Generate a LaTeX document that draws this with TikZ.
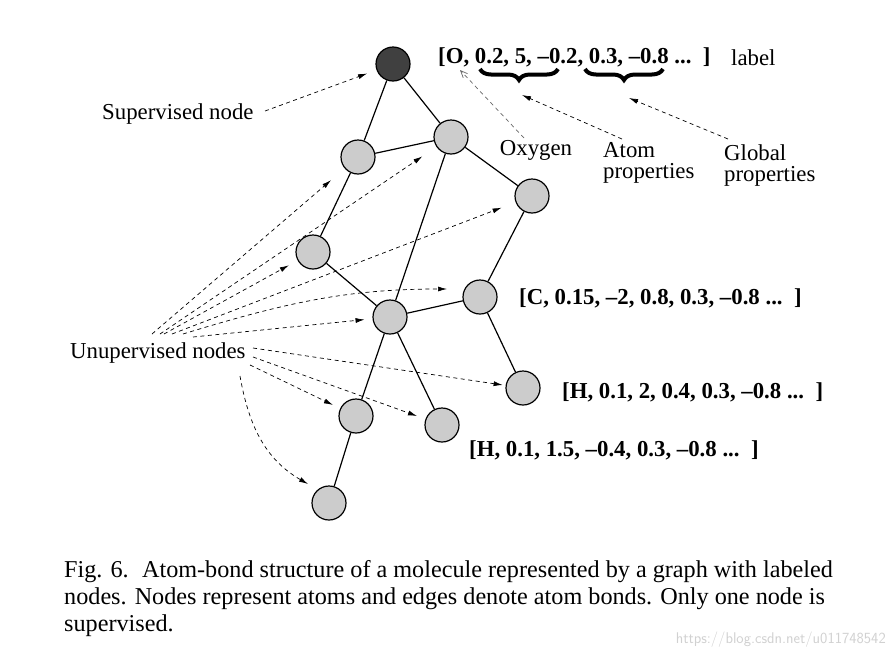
\documentclass[tikz,border=0pt]{standalone}
\usepackage{fontspec}
\setmainfont{Liberation Serif}
\usetikzlibrary{arrows.meta,decorations.pathreplacing,calc}
\begin{document}
\begin{tikzpicture}[x=1pt,y=-1pt,
  atom/.style={circle,draw=black,line width=1.2pt,fill=black!20,minimum size=34pt,inner sep=0pt},
  supatom/.style={atom,fill=black!75},
  bond/.style={line width=1.2pt},
  pointer/.style={dashed,dash pattern=on 4pt off 3.5pt,line width=0.7pt,-{Latex[length=9pt,width=5pt]}},
  openpointer/.style={dashed,dash pattern=on 4pt off 3.5pt,line width=0.7pt,draw=black!60,-{Straight Barb[length=7pt,width=6pt]}},
  lab/.style={font=\fontsize{22.8}{25}\selectfont,inner sep=0pt},
  vec/.style={font=\fontsize{22.8}{25}\selectfont\bfseries,inner sep=0pt,anchor=west},
  captext/.style={font=\fontsize{24.2}{28}\selectfont,inner sep=0pt,anchor=west},
  bracestyle/.style={decorate,decoration={brace,mirror,amplitude=11pt},line width=4pt}
]
\useasboundingbox (0,0) rectangle (894,659);

% atoms
\node[supatom] (O) at (393,64) {};
\node[atom] (n1) at (358,157) {};
\node[atom] (n2) at (451,137) {};
\node[atom] (n3) at (532,196) {};
\node[atom] (n4) at (313,252) {};
\node[atom] (n5) at (480,297) {};
\node[atom] (n6) at (390,317) {};
\node[atom] (n7) at (523,388) {};
\node[atom] (n8) at (356,416) {};
\node[atom] (n9) at (442,425) {};
\node[atom] (n10) at (329,503) {};

% bonds
\draw[bond] (O) -- (n1);
\draw[bond] (O) -- (n2);
\draw[bond] (n1) -- (n2);
\draw[bond] (n1) -- (n4);
\draw[bond] (n2) -- (n3);
\draw[bond] (n2) -- (n6);
\draw[bond] (n3) -- (n5);
\draw[bond] (n4) -- (n6);
\draw[bond] (n6) -- (n5);
\draw[bond] (n6) -- (n8);
\draw[bond] (n6) -- (n9);
\draw[bond] (n5) -- (n7);
\draw[bond] (n8) -- (n10);

% labels
\node[lab,anchor=west] (sup) at (102,114) {Supervised node};
\node[lab,anchor=west] (unsup) at (70,353) {Unupervised nodes};
\node[vec] (vO) at (438,57) {[O, 0.2, 5, –0.2, 0.3, –0.8 ...\ \ ]};
\node[lab,anchor=west] (lbl) at (731,58) {label};
\node[lab] (oxy) at (536,150) {Oxygen};
\node[lab,anchor=base west] (atomp1) at (603,157) {Atom};
\node[lab,anchor=base west] (atomp2) at (603,178.5) {properties};
\node[lab,anchor=base west] (globp1) at (724,160) {Global};
\node[lab,anchor=base west] (globp2) at (724,181) {properties};
\node[vec] (vC) at (519,298) {[C, 0.15, –2, 0.8, 0.3, –0.8 ...\ \ ]};
\node[vec] (vH1) at (562,392) {[H, 0.1, 2, 0.4, 0.3, –0.8 ...\ \ ]};
\node[vec] (vH2) at (469,450) {[H, 0.1, 1.5, –0.4, 0.3, –0.8 ...\ \ ]};

% braces
\coordinate (b1a) at (480,69);
\coordinate (b1b) at (558,69);
\coordinate (b2a) at (585,69);
\coordinate (b2b) at (663,69);
\draw[bracestyle] (b1a) -- (b1b);
\draw[bracestyle] (b2a) -- (b2b);
\coordinate (b1tip) at (522,95);
\coordinate (b2tip) at (629,98);

% pointer start points
\coordinate (sS) at (265,111);
\coordinate (oxS) at (524,138);
\coordinate (apS) at (622,139);
\coordinate (gpS) at (728,139);
\coordinate (oxT) at (460,70);
\coordinate (u1) at (152,334);
\coordinate (u2) at (160,334);
\coordinate (u3) at (164,334);
\coordinate (u4) at (172,334);
\coordinate (u5) at (183,334);
\coordinate (u6) at (193,337);
\coordinate (u7) at (253,348);
\coordinate (u8) at (253,357);
\coordinate (u9) at (250,365);
\coordinate (u10) at (240,376);

% pointers
\draw[pointer,shorten >=10pt] (sS) -- (O);
\draw[openpointer] (oxS) -- (oxT);
\draw[pointer] (apS) -- (b1tip);
\draw[pointer] (gpS) -- (b2tip);

\draw[pointer,shorten >=18pt] (u1) -- (n1);
\draw[pointer,shorten >=17pt] (u2) -- (n2);
\draw[pointer,shorten >=10pt] (u3) -- (n4);
\draw[pointer,shorten >=15pt] (u4) -- (n3);
\draw[pointer,shorten >=8pt] (u5) to[out=17,in=180] ($(n5)+(-25,-8)$);
\draw[pointer,shorten >=8pt] (u6) -- (n6);
\draw[pointer,shorten >=3pt] (u7) -- (n7);
\draw[pointer,shorten >=9pt] (u8) -- (n9);
\draw[pointer,shorten >=8pt] (u9) -- (n8);
\draw[pointer] (u10) to[out=-80,in=150] ($(n10)+(-21,-19)$);

% caption
\node[captext] (c1) at (64,572) {Fig. 6.\hspace{0.55em}Atom-bond structure of a molecule represented by a graph with labeled};
\node[captext] (c2) at (64,599) {nodes. Nodes represent atoms and edges denote atom bonds. Only one node is};
\node[captext] (c3) at (64,626) {supervised.};
\node[font=\fontsize{15.5}{17}\sffamily\selectfont,text=black!18,anchor=east,inner sep=0pt] (wm) at (886,640) {https://blog.csdn.net/u011748542};
\end{tikzpicture}
\end{document}
